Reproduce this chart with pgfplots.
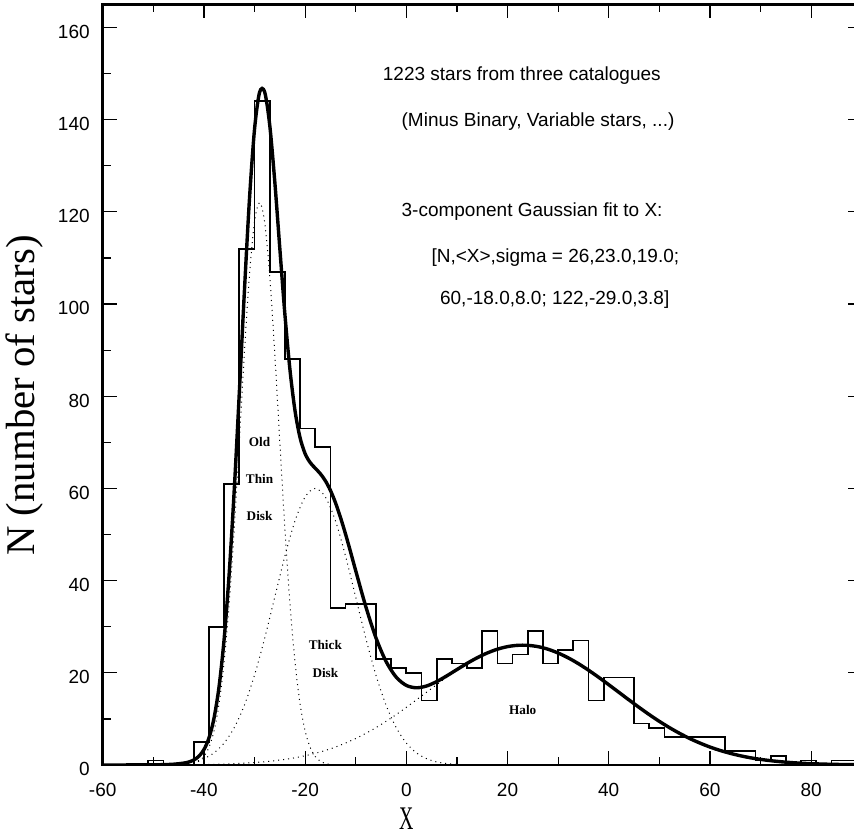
\documentclass[border=0pt]{standalone}
\usepackage{pgfplots}
\pgfplotsset{compat=1.18}
\usepackage{fontspec}
\setmainfont{Liberation Sans}
\newfontfamily\serifl{Liberation Serif}

% histogram, bins of width 3 (left edge, count)
\begin{document}
\begin{tikzpicture}
\begin{axis}[
  name=ax,
  scale only axis,
  width=379.5pt, height=380.3pt,
  xmin=-60, xmax=90, ymin=0, ymax=165,
  axis line style={line width=1.3pt},
  tick style={line width=0.6pt, black},
  major tick length=7pt, minor tick length=4pt,
  tick align=inside,
  xtick={-60,-40,-20,0,20,40,60,80},
  xticklabels={-60,-40,-20,0,20,40,60,80},
  minor x tick num=1,
  ytick={0,20,40,60,80,100,120,140,160},
  yticklabels={0,20,40,60,80,100,120,140,160},
  minor y tick num=1,
  ticklabel style={font=\fontsize{9.5}{11}\selectfont},
  xticklabel style={inner sep=0pt, yshift=-9pt},
  yticklabel style={inner sep=0pt, xshift=-6.3pt, yshift=-2.2pt},
  xlabel={\scalebox{0.6}[1]{X}},
  ylabel={N (number of stars)},
  xlabel style={font=\serifl\fontsize{16.5}{18}\selectfont, inner sep=0pt, at={(axis description cs:0.4,-0.071)}, anchor=center},
  ylabel style={font=\serifl\fontsize{20.4}{22}\selectfont, at={(axis description cs:-0.1024,0.486)}, anchor=center},
]
\addplot[const plot, line width=0.85pt, black] coordinates {
(-60,0) (-51,1) (-48,0) (-45,0) (-42,5) (-39,30) (-36,61) (-33,112) (-30,144)
(-27,107) (-24,88) (-21,73) (-18,69) (-15,34) (-12,35) (-9,35) (-6,23) (-3,21)
(0,20) (3,14) (6,23) (9,22) (12,21) (15,29) (18,22) (21,24) (24,29) (27,22)
(30,25) (33,27) (36,14) (39,19) (42,19) (45,9) (48,8) (51,6) (54,6) (57,6)
(60,6) (63,3) (66,3) (69,1) (72,2) (75,0) (78,1) (81,0) (84,1) (87,1) (90,1)
};
% old thin disk
\addplot[dotted, line width=0.5pt, black, smooth] coordinates {
(-45,0.02) (-44,0.05) (-43,0.14) (-42,0.35) (-41,0.83) (-40,1.85) (-39,3.82)
(-38,7.38) (-37,13.30) (-36,22.36) (-35,35.07) (-34,51.33) (-33,70.11)
(-32,89.33) (-31,106.22) (-30,117.85) (-29,122) (-28,117.85) (-27,106.22)
(-26,89.33) (-25,70.11) (-24,51.33) (-23,35.07) (-22,22.36) (-21,13.30)
(-20,7.38) (-19,3.82) (-18,1.85) (-17,0.83) (-16,0.35) (-15,0.14) (-14,0.05) (-13,0.02)
};
% thick disk
\addplot[dotted, line width=0.5pt, black, smooth] coordinates {
(-50,0.02) (-48,0.05) (-46,0.13) (-44,0.31) (-42,0.67) (-40,1.37) (-38,2.64)
(-36,4.77) (-34,8.12) (-32,12.98) (-30,19.48) (-28,27.47) (-26,36.39)
(-24,45.29) (-22,52.95) (-20,58.15) (-18,60) (-16,58.15) (-14,52.95)
(-12,45.29) (-10,36.39) (-8,27.47) (-6,19.48) (-4,12.98) (-2,8.12) (0,4.77)
(2,2.64) (4,1.37) (6,0.67) (8,0.31) (10,0.13) (12,0.05) (14,0.02)
};
% halo
\addplot[dotted, line width=0.5pt, black, smooth] coordinates {
(-50,0.02) (-48,0.02) (-46,0.04) (-44,0.05) (-42,0.08) (-40,0.11) (-38,0.15)
(-36,0.21) (-34,0.29) (-32,0.39) (-30,0.53) (-28,0.71) (-26,0.94) (-24,1.22)
(-22,1.57) (-20,2.01) (-18,2.54) (-16,3.16) (-14,3.90) (-12,4.77) (-10,5.75)
(-8,6.87) (-6,8.11) (-4,9.47) (-2,10.94) (0,12.50) (2,14.12) (4,15.77)
(6,17.42) (8,19.04) (10,20.57) (12,21.99) (14,23.24) (16,24.29) (18,25.12)
(20,25.68) (22,25.96) (24,25.96) (26,25.68) (28,25.12) (30,24.29) (32,23.24)
(34,21.99) (36,20.57) (38,19.04) (40,17.42) (42,15.77) (44,14.12) (46,12.50)
(48,10.94) (50,9.47) (52,8.11) (54,6.87) (56,5.75) (58,4.77) (60,3.90)
(62,3.16) (64,2.54) (66,2.01) (68,1.57) (70,1.22) (72,0.94) (74,0.71)
(76,0.53) (78,0.39) (80,0.29) (82,0.21) (84,0.15) (86,0.11) (88,0.08) (90,0.05)
};
% total fit
\addplot[line width=1.7pt, black, smooth] coordinates {
(-60,0) (-56,0.01) (-52,0.02) (-50,0.04) (-48,0.08) (-46,0.17) (-44,0.41)
(-43,0.65) (-42,1.09) (-41,1.89) (-40,3.32) (-39,5.86) (-38,10.17) (-37,17.05)
(-36,27.34) (-35,41.59) (-34,59.74) (-33,80.79) (-32,102.70) (-31,122.70)
(-30,137.86) (-29,145.93) (-28,146.03) (-27,138.90) (-26,126.66) (-25,112.10)
(-24,97.84) (-23,85.81) (-22,76.88) (-21,71.01) (-20,67.54) (-19,65.61)
(-18,64.39) (-17,63.20) (-16,61.67) (-15,59.58) (-14,56.90) (-13,53.67)
(-12,50.06) (-11,46.16) (-10,42.15) (-8,34.34) (-6,27.59) (-4,22.45)
(-2,19.06) (0,17.27) (2,16.75) (4,17.14) (6,18.09) (8,19.34) (10,20.70)
(12,22.04) (14,23.26) (16,24.30) (18,25.12) (20,25.68) (22,25.96) (24,25.96)
(26,25.68) (28,25.12) (30,24.29) (32,23.24) (34,21.99) (36,20.57) (38,19.04)
(40,17.42) (42,15.77) (44,14.12) (46,12.50) (48,10.94) (50,9.47) (52,8.11)
(54,6.87) (56,5.75) (58,4.77) (60,3.90) (62,3.16) (64,2.54) (66,2.01)
(68,1.57) (70,1.22) (72,0.94) (74,0.71) (76,0.53) (78,0.39) (80,0.29)
(82,0.21) (84,0.15) (86,0.11) (88,0.08) (90,0.05)
};
% component labels
\begin{scope}[every node/.style={font=\serifl\bfseries\fontsize{6.6}{7}\selectfont, inner sep=0pt}]
\node at (axis cs:-29,70) {Old};
\node at (axis cs:-29,62) {Thin};
\node at (axis cs:-29,54) {Disk};
\node at (axis cs:-16,26) {Thick};
\node at (axis cs:-16,20) {Disk};
\node at (axis cs:23,12) {Halo};
\end{scope}
% notes
\begin{scope}[every node/.style={font=\fontsize{9.5}{11}\selectfont, anchor=west, inner sep=0pt}]
\node at (axis cs:-4.7,149.5) {1223 stars from three catalogues};
\node at (axis cs:-1,139.5) {(Minus Binary, Variable stars, ...)};
\node at (axis cs:-1,120) {3-component Gaussian fit to X:};
\node at (axis cs:4.9,110) {[N,<X>,sigma = 26,23.0,19.0;};
\node at (axis cs:6.6,101) {60,-18.0,8.0; 122,-29.0,3.8]};
\end{scope}
\end{axis}
\pgfresetboundingbox
\path[use as bounding box] ([xshift=-51.35pt, yshift=-37pt]ax.south west) rectangle ([xshift=375.65pt, yshift=2.2pt]ax.north west);
\end{tikzpicture}
\end{document}
